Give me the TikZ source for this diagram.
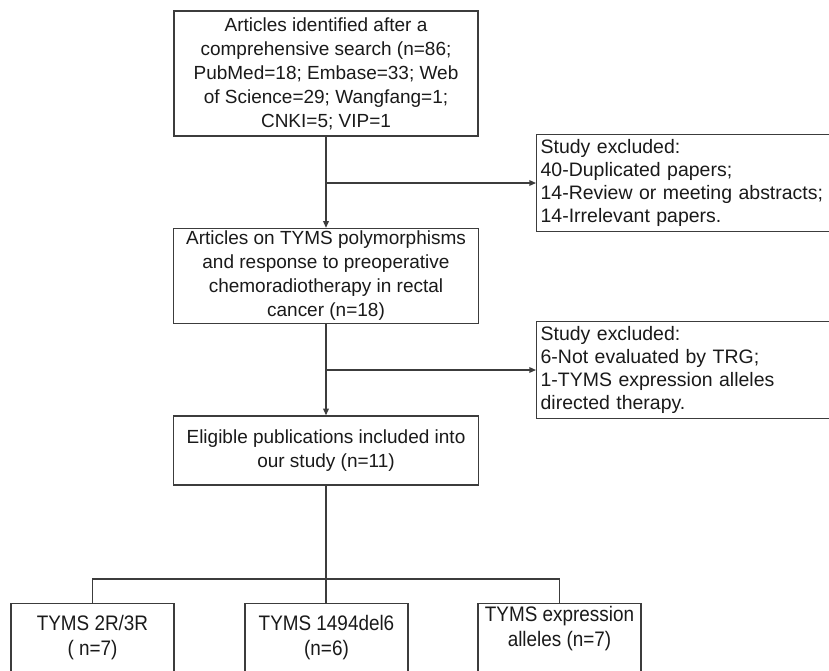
\documentclass[tikz,border=0pt]{standalone}
\usepackage{fontspec}
\setmainfont{Liberation Sans}
\newfontfamily\narrowfont[FakeStretch=0.9]{Liberation Sans}
\usetikzlibrary{arrows.meta}
\definecolor{linecol}{HTML}{3C3C3C}
\definecolor{txtcol}{HTML}{1A1A1A}
\tikzset{
  box/.style={draw=linecol, line width=1pt, rectangle, align=center, text=txtcol,
    inner sep=2pt, font=\fontsize{14.25pt}{18pt}\selectfont},
  exbox/.style={draw=linecol, line width=1pt, rectangle, align=left, text=txtcol,
    anchor=west, minimum width=240pt, text width=234pt, minimum height=70.5pt,
    inner xsep=3pt, font=\fontsize{14.6pt}{17.4pt}\selectfont},
  botbox/.style={draw=linecol, line width=1pt, rectangle, anchor=north,
    minimum width=122.25pt, minimum height=65.25pt},
  bottext/.style={align=center, text=txtcol, inner sep=0pt,
    font=\narrowfont\fontsize{15.75pt}{18.75pt}\selectfont},
  conn/.style={draw=linecol, line width=1pt},
  arr/.style={conn, -{Triangle[length=5pt,width=4.2pt]}}
}
\begin{document}
\begin{tikzpicture}[x=0.75pt,y=-0.75pt]
\path[use as bounding box, clip] (0,0) rectangle (829,671);
\fill[white] (0,0) rectangle (829,671);

\node[box, minimum width=228pt, minimum height=93.75pt] (top) at (326,73.5)
  {Articles identified after a\\comprehensive search (n=86;\\PubMed=18; Embase=33; Web\\of Science=29; Wangfang=1;\\CNKI=5; VIP=1};

\node[exbox] (ex1) at (536,183)
  {Study excluded:\\40-Duplicated papers;\\14-Review or meeting abstracts;\\14-Irrelevant papers.};

\node[box, minimum width=228.75pt, minimum height=70.5pt] (mid) at (326,276)
  {Articles on TYMS polymorphisms\\and response to preoperative\\chemoradiotherapy in rectal\\cancer (n=18)};

\node[exbox] (ex2) at (536,370)
  {Study excluded:\\6-Not evaluated by TRG;\\1-TYMS expression alleles\\directed therapy.};

\node[box, minimum width=228.75pt, minimum height=51.75pt] (elig) at (326,450.5)
  {Eligible publications included into\\our study (n=11)};

\node[botbox] (b1) at (92.5,603) {};
\node[botbox] (b2) at (326.5,603) {};
\node[botbox] (b3) at (559.5,603) {};
\node[bottext] (t1) at (92.5,637.5) {TYMS 2R/3R\\( n=7)};
\node[bottext] (t2) at (326.5,637.5) {TYMS 1494del6\\(n=6)};
\node[bottext] (t3) at (559.5,629) {TYMS expression\\alleles (n=7)};

\coordinate (j1) at (326,183);
\coordinate (j2) at (326,370);
\coordinate (hb) at (326,579);

\draw[arr] (top.south) -- (top.south |- mid.north);
\draw[arr] (j1) -- (ex1.west);
\draw[arr] (mid.south) -- (mid.south |- elig.north);
\draw[arr] (j2) -- (ex2.west);
\draw[conn] (elig.south) -- (elig.south |- b2.north);
\draw[conn] (b1.north) -- (b1.north |- hb) -- (b3.north |- hb) -- (b3.north);
\end{tikzpicture}
\end{document}
